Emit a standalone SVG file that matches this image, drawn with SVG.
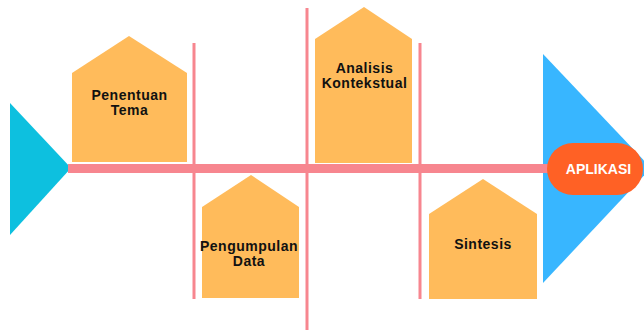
<svg xmlns="http://www.w3.org/2000/svg" width="644" height="331" viewBox="0 0 644 331">
<style>
.house{fill:#FFBB5B}
.spine{fill:#F7868F}
.lbl{font-family:"Liberation Sans",Arial,sans-serif;font-weight:bold;font-size:14px;fill:#111;text-anchor:middle;letter-spacing:0.5px}
.pilltxt{font-family:"Liberation Sans",Arial,sans-serif;font-weight:bold;font-size:14px;fill:#fff;text-anchor:middle}
</style>
<rect width="644" height="331" fill="#fff"/>
<g id="head-left"><polygon points="10,103 71,168 10,235" fill="#0DC0DF"/></g>
<g id="head-right"><polygon points="543,54 651,168 543,283" fill="#38B6FF"/></g>
<g id="connectors">
<rect class="spine" x="68" y="164" width="482" height="9"/>
<rect class="spine" x="192.5" y="43" width="3" height="256"/>
<rect class="spine" x="305.5" y="8" width="3" height="322"/>
<rect class="spine" x="418.5" y="43" width="3" height="256"/>
</g>
<g id="penentuan-tema">
<polygon class="house" points="72,73 129,36 187,73 187,162 72,162"/>
<text class="lbl" x="129.5" y="100">Penentuan</text>
<text class="lbl" x="129.5" y="115">Tema</text>
</g>
<g id="pengumpulan-data">
<polygon class="house" points="202,207 251,175 299,207 299,298 202,298"/>
<text class="lbl" x="249" y="251">Pengumpulan</text>
<text class="lbl" x="249" y="266">Data</text>
</g>
<g id="analisis-kontekstual">
<polygon class="house" points="315,39 364,7 412,39 412,163 315,163"/>
<text class="lbl" x="364.5" y="73">Analisis</text>
<text class="lbl" x="364.5" y="88">Kontekstual</text>
</g>
<g id="sintesis">
<polygon class="house" points="429,214 483,179 537,214 537,299 429,299"/>
<text class="lbl" x="483" y="249">Sintesis</text>
</g>
<g id="aplikasi">
<rect x="547" y="143" width="96" height="52" rx="26" fill="#FF6125"/>
<text class="pilltxt" x="598.5" y="174">APLIKASI</text>
</g>
</svg>
